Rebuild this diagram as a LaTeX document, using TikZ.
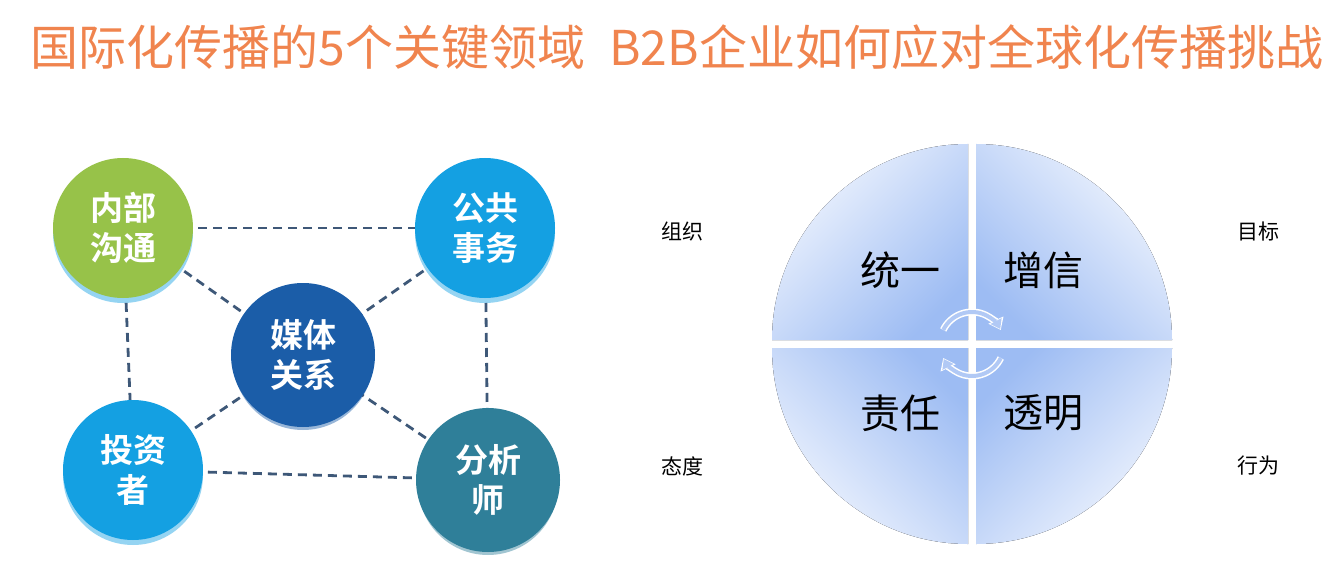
\documentclass[tikz,border=0pt]{standalone}
\usepackage{fontspec}
\newfontfamily\cjk{Noto Sans CJK SC}
\newfontfamily\cjkb{Noto Sans CJK SC Bold}
\usetikzlibrary{arrows.meta}
\definecolor{ttl}{HTML}{F0844E}
\definecolor{cgreen}{HTML}{97C249}
\definecolor{cblue}{HTML}{14A0E2}
\definecolor{cdark}{HTML}{1B5DA8}
\definecolor{cteal}{HTML}{2F7F99}
\definecolor{dline}{HTML}{3E5878}
\definecolor{qlight}{HTML}{F2F6FE}
\definecolor{qblue}{HTML}{9DBCF3}
\tikzset{
 bub/.style={circle,minimum size=140pt,inner sep=0pt,text=white,font=\cjkb\fontsize{33}{40}\selectfont,align=center},
 dl/.style={draw=dline,line width=2.8pt,dash pattern=on 9pt off 6pt},
 ql/.style={font=\cjk\fontsize{40}{46}\selectfont},
 cl/.style={font=\cjk\fontsize{21}{24}\selectfont},
}
\begin{document}
\begin{tikzpicture}[x=1pt,y=-1pt]
\useasboundingbox (0,0) rectangle (1336,580);
\node[text=ttl,font=\cjk\fontsize{48}{54}\selectfont] (title) at (677,47) {国际化传播的5个关键领域\hspace{24pt}B2B企业如何应对全球化传播挑战};
% shadows
\foreach \p/\c in {(123,233)/cblue,(485,233)/cblue,(133,475)/cblue,(488,485)/cteal,(303,360)/cdark}
  \fill[\c!45] \p circle (70);
\coordinate (A) at (123,228);
\coordinate (B) at (485,228);
\coordinate (C) at (303,355);
\coordinate (D) at (133,470);
\coordinate (E) at (488,480);
\draw[dl] (A) -- (B); \draw[dl] (A) -- (D); \draw[dl] (B) -- (E); \draw[dl] (D) -- (E);
\draw[dl] (A) -- (C); \draw[dl] (B) -- (C); \draw[dl] (D) -- (C); \draw[dl] (E) -- (C);
\node[bub,fill=cgreen] (n1) at (A) {内部\\沟通};
\node[bub,fill=cblue] (n2) at (B) {公共\\事务};
\node[bub,fill=cdark,minimum size=144pt] (n3) at (C) {媒体\\关系};
\node[bub,fill=cblue] (n4) at (D) {投资\\者};
\node[bub,fill=cteal,minimum size=144pt] (n5) at (E) {分析\\师};
% quadrants
\begin{scope}[shift={(972,344)}]
\fill[shift={(4,4)},left color=qblue,right color=qlight,shading angle=45] (0,0) -- (196,0) arc[start angle=0,end angle=90,radius=196] -- cycle;
\fill[shift={(-4,4)},shading=axis,left color=qblue,right color=qlight,shading angle=-45] (0,0) -- (-196,0) arc[start angle=180,end angle=90,radius=196] -- cycle;
\fill[shift={(-4,-4)},shading=axis,left color=qlight,right color=qblue,shading angle=45] (0,0) -- (-196,0) arc[start angle=180,end angle=270,radius=196] -- cycle;
\fill[shift={(4,-4)},shading=axis,left color=qlight,right color=qblue,shading angle=-45] (0,0) -- (196,0) arc[start angle=360,end angle=270,radius=196] -- cycle;
\draw[draw=white,line width=7pt,-{Triangle[length=11pt,width=16pt]}] (206:32) arc[start angle=206,end angle=334,radius=32];
\draw[draw=white,line width=7pt,-{Triangle[length=11pt,width=16pt]}] (26:32) arc[start angle=26,end angle=154,radius=32];
\draw[draw=qblue!80,line width=4pt,-{Triangle[length=9pt,width=12pt]}] (206:32) arc[start angle=206,end angle=332,radius=32];
\draw[draw=qblue!80,line width=4pt,-{Triangle[length=9pt,width=12pt]}] (26:32) arc[start angle=26,end angle=152,radius=32];
\end{scope}
\node[ql] (q1) at (900,270) {统一};
\node[ql] (q2) at (1043,270) {增信};
\node[ql] (q3) at (900,413) {责任};
\node[ql] (q4) at (1043,413) {透明};
\node[cl] (c1) at (682,232) {组织};
\node[cl] (c2) at (1258,232) {目标};
\node[cl] (c3) at (682,466) {态度};
\node[cl] (c4) at (1258,466) {行为};
\end{tikzpicture}
\end{document}
